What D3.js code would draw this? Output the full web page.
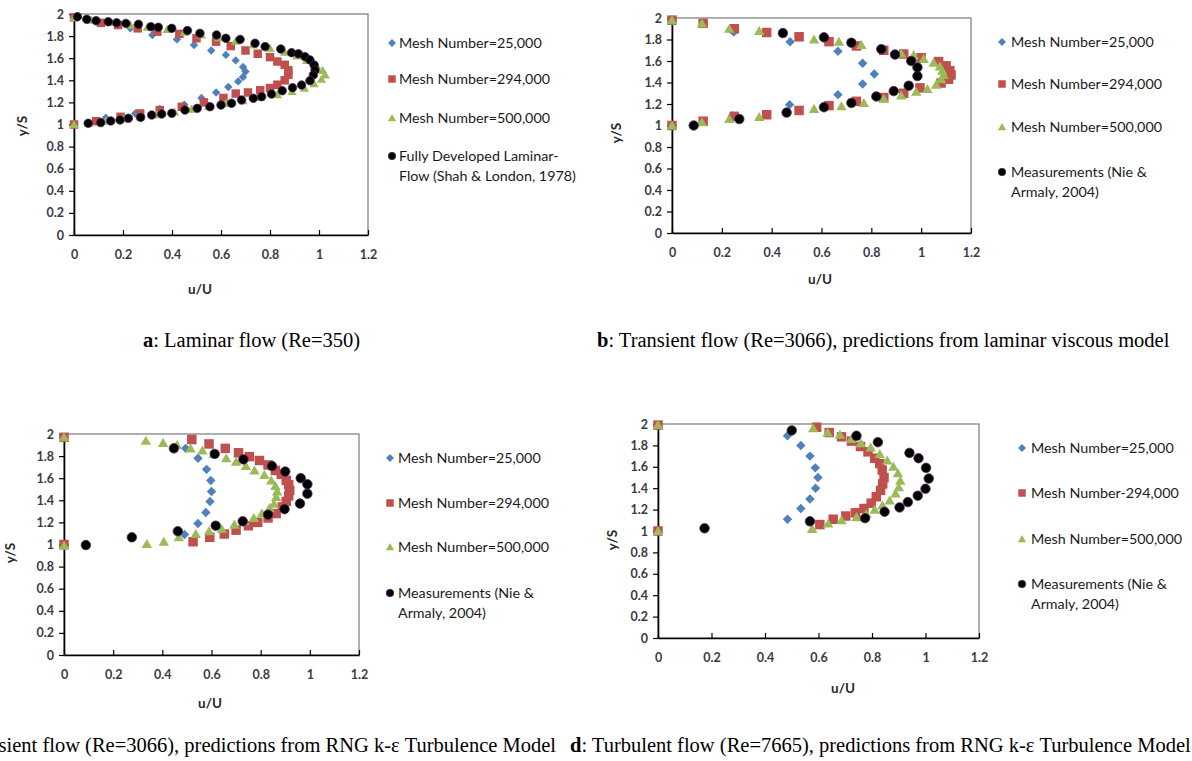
<!DOCTYPE html>
<html>
<head>
<meta charset="utf-8">
<script src="https://cdn.jsdelivr.net/npm/d3@7"></script>
<style>
  html, body { margin: 0; padding: 0; background: #fff; }
  svg { display: block; }
  .tick text { font-family: Lato, "Open Sans", sans-serif; font-weight: 700; font-size: 12.5px; fill: #3a3a44; }
  .axis-title { font-family: Lato, "Open Sans", sans-serif; font-weight: 700; font-size: 13.5px; fill: #2a2a2a; }
  .legend text { font-family: Lato, "Open Sans", sans-serif; font-size: 14.3px; fill: #1a1a1a; }
  .caption { font-family: "Liberation Serif", "Times New Roman", serif; font-size: 20.5px; fill: #000; }
</style>
</head>
<body>
<svg id="fig" width="1192" height="761"></svg>
<script>
// ---- axis ticks ----
const uTicks = [0, 0.2, 0.4, 0.6, 0.8, 1, 1.2];
const yTicks = [0, 0.2, 0.4, 0.6, 0.8, 1, 1.2, 1.4, 1.6, 1.8, 2];

// ---- series names ----
const seriesNames = ["Mesh Number=25,000", "Mesh Number=294,000", "Mesh Number=500,000"];
const seriesNamesD = ["Mesh Number=25,000", "Mesh Number-294,000", "Mesh Number=500,000"];
const refLaminar = ["Fully Developed Laminar-", "Flow (Shah & London, 1978)"];
const refMeasured = ["Measurements (Nie &", "Armaly, 2004)"];

// ---- captions ----
const captionA = ["a", ": Laminar flow (Re=350)"];
const captionB = ["b", ": Transient flow (Re=3066), predictions from laminar viscous model"];
const captionC = ["c", ": Transient flow (Re=3066), predictions from RNG k-\u03b5 Turbulence Model"];
const captionD = ["d", ": Turbulent flow (Re=7665), predictions from RNG k-\u03b5 Turbulence Model"];

// ---- (a) laminar flow, Re=350 : [u/U, y/S] ----
const aMesh25k = [[0,1.97],[0.12,1.92],[0.23,1.87],[0.32,1.81],[0.42,1.77],[0.49,1.72],[0.56,1.67],[0.62,1.63],
  [0.66,1.58],[0.69,1.52],[0.70,1.48],[0.69,1.43],[0.67,1.39],[0.63,1.34],[0.58,1.29],[0.52,1.24],
  [0.45,1.18],[0.35,1.14],[0.25,1.10],[0.13,1.06],[0,1.0]];
const aMesh294k = [[0,1.97],[0.11,1.92],[0.18,1.90],[0.26,1.87],[0.34,1.84],[0.43,1.82],[0.50,1.78],[0.58,1.75],
  [0.64,1.71],[0.70,1.67],[0.75,1.64],[0.80,1.61],[0.83,1.57],[0.86,1.54],[0.875,1.49],[0.875,1.45],
  [0.86,1.40],[0.83,1.36],[0.80,1.33],[0.76,1.31],[0.71,1.29],[0.66,1.28],[0.61,1.24],[0.53,1.20],
  [0.44,1.16],[0.35,1.13],[0.27,1.10],[0.19,1.07],[0.09,1.03],[0,1.0]];
const aMesh500k = [[0,1.97],[0.07,1.945],[0.15,1.925],[0.23,1.90],[0.30,1.88],[0.38,1.86],[0.45,1.835],[0.52,1.81],
  [0.59,1.785],[0.66,1.755],[0.73,1.72],[0.80,1.69],[0.86,1.655],[0.91,1.62],[0.95,1.58],[0.99,1.535],
  [1.015,1.49],[1.025,1.45],[1.01,1.41],[0.98,1.37],[0.94,1.33],[0.89,1.30],[0.83,1.27],[0.76,1.245],
  [0.69,1.215],[0.62,1.19],[0.55,1.165],[0.48,1.14],[0.41,1.115],[0.34,1.09],[0.27,1.07],[0.20,1.05],
  [0.13,1.03],[0.06,1.01],[0,1.0]];
const aShahLondon = [[0.014,1.976],[0.052,1.952],[0.09,1.94],[0.14,1.93],[0.174,1.92],[0.212,1.915],[0.263,1.907],
  [0.314,1.885],[0.344,1.88],[0.399,1.87],[0.463,1.85],[0.514,1.825],[0.582,1.81],[0.62,1.78],[0.678,1.77],
  [0.739,1.735],[0.78,1.705],[0.844,1.683],[0.888,1.65],[0.916,1.64],[0.943,1.614],[0.963,1.584],[0.98,1.538],
  [0.984,1.493],[0.977,1.448],[0.963,1.397],[0.929,1.357],[0.892,1.333],[0.85,1.306],[0.806,1.276],
  [0.766,1.252],[0.732,1.237],[0.684,1.222],[0.643,1.192],[0.60,1.176],[0.555,1.161],[0.503,1.146],
  [0.453,1.131],[0.399,1.101],[0.358,1.095],[0.317,1.086],[0.272,1.065],[0.222,1.056],[0.188,1.041],
  [0.15,1.032],[0.109,1.017],[0.058,1.011]];

// ---- (b) transient flow, laminar viscous model ----
const bMesh25k = [[0,1.97],[0.248,1.87],[0.474,1.78],[0.666,1.69],[0.765,1.58],[0.812,1.48],[0.765,1.386],
  [0.666,1.287],[0.472,1.194],[0.242,1.091],[0,1.0]];
const bMesh294k = [[0,1.98],[0.125,1.95],[0.25,1.90],[0.38,1.865],[0.51,1.825],[0.63,1.78],[0.74,1.74],
  [0.85,1.70],[0.93,1.665],[1.0,1.63],[1.07,1.595],[1.10,1.555],[1.115,1.51],[1.12,1.47],[1.11,1.43],
  [1.08,1.395],[0.995,1.35],[0.93,1.30],[0.85,1.26],[0.74,1.225],[0.63,1.185],[0.51,1.14],[0.38,1.10],
  [0.25,1.085],[0.125,1.04],[0,1.0]];
const bMesh500k = [[0,1.98],[0.12,1.95],[0.23,1.90],[0.35,1.88],[0.57,1.80],[0.67,1.78],[0.76,1.75],
  [0.92,1.67],[0.97,1.655],[1.01,1.62],[1.05,1.585],[1.075,1.55],[1.085,1.51],[1.09,1.47],[1.08,1.43],
  [1.06,1.38],[1.025,1.34],[0.98,1.315],[0.92,1.28],[0.85,1.25],[0.77,1.21],[0.68,1.18],[0.57,1.155],
  [0.35,1.08],[0.23,1.06],[0.12,1.03],[0,1.0]];
const bNieArmaly = [[0.087,1.0],[0.27,1.06],[0.46,1.12],[0.61,1.17],[0.72,1.21],[0.82,1.27],[0.89,1.32],
  [0.95,1.37],[0.985,1.46],[0.985,1.54],[0.96,1.60],[0.895,1.66],[0.84,1.71],[0.72,1.77],[0.61,1.82],[0.445,1.86]];

// ---- (c) transient flow, RNG k-epsilon ----
const cMesh25k = [[0,1.97],[0.495,1.87],[0.545,1.78],[0.58,1.68],[0.597,1.58],[0.60,1.48],[0.594,1.39],
  [0.577,1.29],[0.545,1.19],[0.49,1.09],[0,1.0]];
const cMesh294k = [[0,1.97],[0.52,1.95],[0.59,1.91],[0.656,1.87],[0.71,1.83],[0.754,1.795],[0.795,1.76],
  [0.83,1.72],[0.86,1.67],[0.884,1.635],[0.904,1.58],[0.914,1.54],[0.918,1.49],[0.914,1.44],[0.904,1.39],
  [0.888,1.34],[0.863,1.28],[0.83,1.24],[0.788,1.20],[0.75,1.17],[0.70,1.13],[0.652,1.095],[0.593,1.065],
  [0.525,1.025],[0,1.0]];
const cMesh500k = [[0,1.97],[0.333,1.94],[0.403,1.92],[0.46,1.90],[0.515,1.87],[0.563,1.85],[0.61,1.82],
  [0.66,1.78],[0.70,1.75],[0.74,1.71],[0.775,1.67],[0.815,1.63],[0.843,1.58],[0.86,1.53],[0.867,1.48],
  [0.863,1.43],[0.854,1.37],[0.836,1.33],[0.805,1.28],[0.772,1.24],[0.734,1.21],[0.693,1.18],[0.642,1.14],
  [0.59,1.12],[0.536,1.095],[0.467,1.065],[0.406,1.025],[0.337,1.005],[0,0.99]];
const cNieArmaly = [[0.089,0.995],[0.276,1.065],[0.463,1.12],[0.617,1.17],[0.727,1.21],[0.83,1.27],[0.897,1.32],
  [0.96,1.37],[0.99,1.46],[0.99,1.545],[0.963,1.60],[0.90,1.66],[0.846,1.71],[0.73,1.77],[0.613,1.82],[0.447,1.87]];

// ---- (d) turbulent flow, RNG k-epsilon ----
const dMesh25k = [[0.484,1.89],[0.534,1.80],[0.568,1.70],[0.588,1.59],[0.598,1.50],[0.589,1.40],[0.568,1.30],
  [0.534,1.21],[0.484,1.11]];
const dMesh294k = [[0,1.99],[0.593,1.97],[0.64,1.92],[0.686,1.88],[0.723,1.84],[0.757,1.79],[0.785,1.74],
  [0.81,1.68],[0.829,1.63],[0.838,1.57],[0.845,1.50],[0.84,1.44],[0.832,1.38],[0.816,1.32],[0.797,1.26],
  [0.77,1.21],[0.738,1.17],[0.702,1.14],[0.655,1.11],[0.605,1.06],[0,1.0]];
const dMesh500k = [[0,1.99],[0.58,1.96],[0.634,1.92],[0.68,1.90],[0.723,1.86],[0.758,1.82],[0.795,1.78],
  [0.829,1.72],[0.857,1.66],[0.88,1.60],[0.897,1.54],[0.906,1.47],[0.90,1.41],[0.888,1.35],[0.866,1.285],
  [0.839,1.24],[0.81,1.20],[0.779,1.16],[0.742,1.13],[0.686,1.10],[0.636,1.07],[0.576,1.02],[0,1.0]];
const dNieArmaly = [[0.174,1.025],[0.568,1.09],[0.774,1.12],[0.847,1.18],[0.903,1.22],[0.934,1.27],[0.971,1.33],
  [1.0,1.395],[1.012,1.49],[1.002,1.59],[0.974,1.68],[0.94,1.73],[0.822,1.83],[0.742,1.89],[0.50,1.94]];

// ---- marker styles ----
const COLORS = { diamond: "#4f81bd", square: "#c0504d", triangle: "#9bbb59", circle: "#000000" };
const SHAPES = ["diamond", "square", "triangle", "circle"];

function markerPath(shape, s) {
  // s is the marker's nominal width in px
  const h = s / 2;
  switch (shape) {
    case "diamond": return `M0,${-h*1.05}L${h*1.05},0L0,${h*1.05}L${-h*1.05},0Z`;
    case "square": return `M${-h},${-h}H${h}V${h}H${-h}Z`;
    case "triangle": return `M0,${-h*1.05}L${h*1.1},${h*0.85}L${-h*1.1},${h*0.85}Z`;
    default: return d3.symbol(d3.symbolCircle, Math.PI * h * h)();
  }
}

function drawMarker(sel, shape, s) {
  const p = sel.append("path").attr("d", markerPath(shape, s)).attr("fill", COLORS[shape]);
  if (shape === "circle") p.attr("stroke", "#4b2a5a").attr("stroke-width", 0.8);
  return p;
}

const svg = d3.select("#fig");

const panels = [
  { box: [74, 14, 368, 235], series: [aMesh25k, aMesh294k, aMesh500k, aShahLondon], size: 8.5,
    names: seriesNames, ref: refLaminar, legend: { x: 392, tx: 399, ys: [43, 79, 118, 156] },
    yTitle: [22, 126], xTitle: [200, 289] },
  { box: [672, 18, 971, 233], series: [bMesh25k, bMesh294k, bMesh500k, bNieArmaly], size: 9.5,
    names: seriesNames, ref: refMeasured, legend: { x: 1002, tx: 1011, ys: [42, 84, 127, 172] },
    yTitle: [616, 133], xTitle: [820, 279] },
  { box: [64, 434, 359, 655], series: [cMesh25k, cMesh294k, cMesh500k, cNieArmaly], size: 9.5,
    names: seriesNames, ref: refMeasured, legend: { x: 390, tx: 398, ys: [458, 503, 547, 593] },
    yTitle: [10, 553], xTitle: [210, 703] },
  { box: [658, 424, 979, 638], series: [dMesh25k, dMesh294k, dMesh500k, dNieArmaly], size: 9.5,
    names: seriesNamesD, ref: refMeasured, legend: { x: 1022, tx: 1031, ys: [448, 493, 539, 584] },
    yTitle: [612, 540], xTitle: [843, 688] }
];

panels.forEach(p => {
  const [x0, y0, x1, y1] = p.box;
  const x = d3.scaleLinear().domain([0, 1.2]).range([x0, x1]);
  const y = d3.scaleLinear().domain([0, 2]).range([y1, y0]);
  const g = svg.append("g");

  // plot frame (top and right edges are grey)
  g.append("rect").attr("x", x0).attr("y", y0).attr("width", x1 - x0).attr("height", y1 - y0)
    .attr("fill", "none").attr("stroke", "#7a7a7a").attr("stroke-width", 1.2);

  const xAxis = g.append("g").attr("transform", `translate(0,${y1})`)
    .call(d3.axisBottom(x).tickValues(uTicks).tickFormat(d3.format("~g"))
      .tickSizeInner(-5).tickSizeOuter(0).tickPadding(15));
  const yAxis = g.append("g").attr("transform", `translate(${x0},0)`)
    .call(d3.axisLeft(y).tickValues(yTicks).tickFormat(d3.format("~g"))
      .tickSizeInner(5).tickSizeOuter(0).tickPadding(5));
  [xAxis, yAxis].forEach(a => {
    a.select(".domain").attr("stroke", "#000").attr("stroke-width", 1.6);
    a.selectAll(".tick line").attr("stroke", "#000").attr("stroke-width", 1.2);
  });

  g.append("text").attr("class", "axis-title").attr("text-anchor", "middle")
    .attr("transform", `translate(${p.yTitle[0]},${p.yTitle[1]}) rotate(-90)`)
    .attr("dy", "0.35em").text("y/S");
  g.append("text").attr("class", "axis-title").attr("text-anchor", "middle")
    .attr("x", p.xTitle[0]).attr("y", p.xTitle[1]).attr("dy", "0.35em").text("u/U");

  // data markers: 25k, 294k, 500k, then reference on top
  p.series.forEach((data, i) => {
    const shape = SHAPES[i];
    const s = shape === "diamond" ? p.size - 0.5 : p.size;
    g.append("g").selectAll("g").data(data).join("g")
      .attr("transform", d => `translate(${x(d[0])},${y(d[1])})`)
      .each(function () { drawMarker(d3.select(this), shape, s); });
  });

  // legend
  const lg = g.append("g").attr("class", "legend");
  SHAPES.forEach((shape, i) => {
    const ly = p.legend.ys[i];
    drawMarker(lg.append("g").attr("transform", `translate(${p.legend.x},${ly})`), shape, 7.5);
    const lines = i < 3 ? [p.names[i]] : p.ref;
    lines.forEach((t, k) => {
      lg.append("text").attr("x", p.legend.tx).attr("y", ly + k * 20).attr("dy", "0.35em").text(t);
    });
  });
});

// captions under each panel
function caption(parts, xPos, yPos, anchor) {
  const t = svg.append("text").attr("class", "caption").attr("x", xPos).attr("y", yPos)
    .attr("text-anchor", anchor);
  t.append("tspan").attr("font-weight", "700").text(parts[0]);
  t.append("tspan").text(parts[1]);
}
caption(captionA, 143, 347, "start");
caption(captionB, 597, 347, "start");
caption(captionC, 556, 752, "end");
caption(captionD, 570, 752, "start");
</script>
</body>
</html>
